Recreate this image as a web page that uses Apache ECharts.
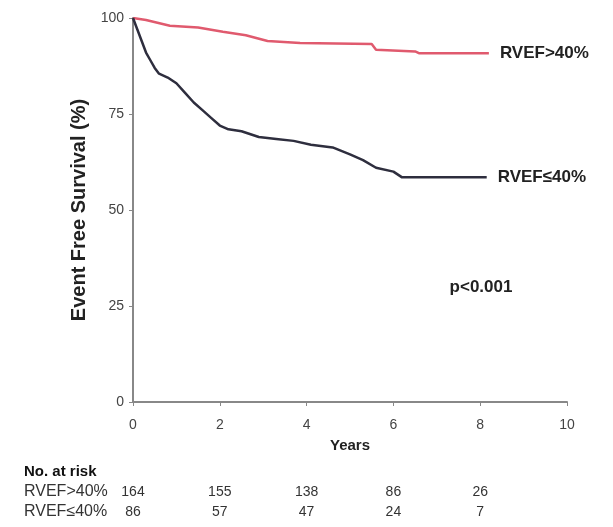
<!DOCTYPE html>
<html>
<head>
<meta charset="utf-8">
<script src="https://cdn.jsdelivr.net/npm/echarts@6/dist/echarts.min.js"></script>
<style>
  html, body { margin: 0; padding: 0; background: #fff; }
  #main { width: 613px; height: 527px; }
</style>
</head>
<body>
<div id="main"></div>
<script>
// 生存曲线数据（年, %）
const highName = 'RVEF>40%'
const lowName = 'RVEF≤40%'
const highCurve = [
  [0, 100], [0.3, 99.5], [0.85, 98], [1.5, 97.5], [2.07, 96.4], [2.6, 95.5],
  [3.1, 94], [3.85, 93.5], [5.5, 93.2], [5.6, 91.7], [6.5, 91.3], [6.6, 90.8], [8.2, 90.8]
]
const lowCurve = [
  [0, 100], [0.1, 97], [0.2, 94], [0.3, 91], [0.4, 89], [0.5, 87], [0.6, 85.5],
  [0.8, 84.5], [1.0, 83], [1.2, 80.5], [1.4, 78], [1.6, 76], [1.8, 74], [2.0, 72],
  [2.2, 71], [2.5, 70.5], [2.9, 69], [3.3, 68.5], [3.7, 68], [4.1, 67], [4.6, 66.3],
  [5.0, 64.5], [5.3, 63], [5.6, 61], [6.0, 60], [6.2, 58.5], [8.15, 58.5]
]
// 风险人数表
const riskYears = [0, 2, 4, 6, 8]
const riskHigh = [164, 155, 138, 86, 26]
const riskLow = [86, 57, 47, 24, 7]
const pText = 'p<0.001'

const font = 'Liberation Sans, Arial, sans-serif'
const myChart = echarts.init(document.querySelector('#main'))

const endLabel = {
  show: true,
  formatter: '{a}',
  distance: 11,
  color: '#222',
  fontSize: 17,
  fontWeight: 'bold',
  fontFamily: font
}

const option = {
  animation: false,
  grid: { left: 133, right: 46, top: 18, bottom: 125 },
  xAxis: {
    type: 'value',
    min: 0,
    max: 10,
    interval: 2,
    name: 'Years',
    nameLocation: 'middle',
    nameGap: 36,
    nameTextStyle: { color: '#222', fontSize: 15, fontWeight: 'bold', fontFamily: font },
    axisLine: { lineStyle: { color: '#888', width: 2 } },
    axisTick: { length: 4, lineStyle: { color: '#888' } },
    axisLabel: { color: '#444', fontSize: 14, margin: 16, fontFamily: font },
    splitLine: { show: false }
  },
  yAxis: {
    type: 'value',
    min: 0,
    max: 100,
    interval: 25,
    name: 'Event Free Survival (%)',
    nameLocation: 'middle',
    nameGap: 42,
    nameTextStyle: { color: '#222', fontSize: 20, fontWeight: 'bold', fontFamily: font },
    axisLine: { show: true, lineStyle: { color: '#888', width: 2 } },
    axisTick: { show: true, length: 4, lineStyle: { color: '#888' } },
    axisLabel: { color: '#444', fontSize: 14, margin: 9, fontFamily: font },
    splitLine: { show: false }
  },
  series: [
    {
      name: highName,
      type: 'line',
      data: highCurve,
      symbol: 'none',
      lineStyle: { color: '#e05a6e', width: 2.5 },
      endLabel: endLabel
    },
    {
      name: lowName,
      type: 'line',
      data: lowCurve,
      symbol: 'none',
      lineStyle: { color: '#2e2e3e', width: 2.5 },
      endLabel: endLabel
    }
  ]
}

myChart.setOption(option)

// 风险人数表和 p 值
const textStyle = (text, x, y, extra) => ({
  type: 'text',
  x: x,
  y: y,
  style: Object.assign({
    text: text,
    fill: '#333',
    font: '14px ' + font,
    textAlign: 'center',
    textVerticalAlign: 'middle'
  }, extra || {})
})
const elements = [
  textStyle(pText, 481, 287, { font: 'bold 17px ' + font, fill: '#222' }),
  textStyle('No. at risk', 24, 472, { font: 'bold 15px ' + font, fill: '#111', textAlign: 'left' }),
  textStyle(highName, 24, 492, { font: '16px ' + font, textAlign: 'left' }),
  textStyle(lowName, 24, 512, { font: '16px ' + font, textAlign: 'left' })
]
riskYears.forEach((yr, i) => {
  const px = myChart.convertToPixel({ xAxisIndex: 0 }, yr)
  elements.push(textStyle(String(riskHigh[i]), px, 492))
  elements.push(textStyle(String(riskLow[i]), px, 512))
})
myChart.setOption({ graphic: elements })
</script>
</body>
</html>
